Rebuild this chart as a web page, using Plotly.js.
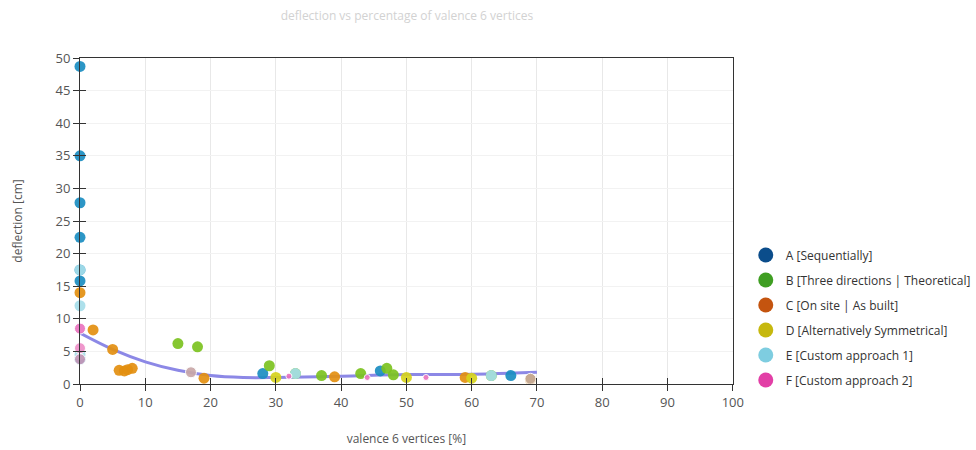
<!DOCTYPE html>
<html>
<head>
<meta charset="utf-8">
<script src="https://cdn.plot.ly/plotly-3.0.1.min.js"></script>
<style>html,body{margin:0;padding:0;background:#fff;}#chart{width:976px;height:450px;}</style>
</head>
<body>
<div id="chart"></div>
<script>
// Series names
var seriesNames = ["A [Sequentially]", "B [Three directions | Theoretical]", "C [On site | As built]", "D [Alternatively Symmetrical]", "E [Custom approach 1]", "F [Custom approach 2]"];
var legendColors = ["#0b4d8b", "#3f9e22", "#c4540f", "#c6b80e", "#7ecde0", "#e23fa6"];
var pointColors = ["#1a8dc1", "#7cc21f", "#e38f10", "#d6d31c", "#a6dde9", "#ea74c0"];

// Data (x = valence 6 vertices %, y = deflection cm)
var aX = [0, 0, 0, 0, 0, 0, 0, 28, 46, 66];
var aY = [48.7, 35, 27.8, 22.5, 17.5, 15.8, 3.8, 1.6, 2.0, 1.3];
var bX = [15, 18, 29, 33, 37, 43, 47, 48, 63];
var bY = [6.2, 5.7, 2.8, 1.6, 1.3, 1.6, 2.4, 1.4, 1.3];
var cX = [0, 2, 5, 6, 6.8, 7.3, 8, 19, 39, 59, 69];
var cY = [14, 8.3, 5.3, 2.1, 2.0, 2.2, 2.4, 0.9, 1.1, 1.0, 0.7];
var dX = [30, 50, 60];
var dY = [1.0, 1.0, 0.9];
var eX = [0, 0, 0, 33, 63];
var eY = [17.5, 12, 4.5, 1.6, 1.3];
var fX = [0, 0, 0, 17, 32, 44, 53, 69];
var fY = [8.5, 5.5, 3.8, 1.8, 1.2, 1.0, 1.0, 0.8];

// Marker styling for F (small/blended points)
var fSizes = [11, 11, 11, 11, 6, 6, 6, 11];
var fColors = ["#ea74c0", "#ee8fc8", "#c999b8", "#c9a8a8", "#ea74c0", "#ea74c0", "#ea74c0", "#c4ab9c"];

// Trend line
var trendX = [0, 5, 10, 15, 20, 25, 30, 40, 50, 60, 70];
var trendY = [7.8, 5.3, 3.4, 2.1, 1.3, 1.0, 1.0, 1.2, 1.45, 1.5, 1.8];

var xTicks = [0, 10, 20, 30, 40, 50, 60, 70, 80, 90, 100];
var yTicks = [0, 5, 10, 15, 20, 25, 30, 35, 40, 45, 50];

var seriesX = [aX, bX, cX, dX, eX, fX];
var seriesY = [aY, bY, cY, dY, eY, fY];

var traces = [];
traces.push({
  x: trendX, y: trendY, type: 'scatter', mode: 'lines',
  line: {color: '#8c88e6', width: 3, shape: 'spline'},
  showlegend: false, hoverinfo: 'skip'
});
for (var i = 0; i < 6; i++) {
  traces.push({
    x: seriesX[i], y: seriesY[i], type: 'scatter', mode: 'markers',
    marker: {color: i === 5 ? fColors : pointColors[i], size: i === 5 ? fSizes : 11, opacity: 0.92},
    cliponaxis: false, showlegend: false, name: seriesNames[i]
  });
}
for (var j = 0; j < 6; j++) {
  traces.push({
    x: [null], y: [null], type: 'scatter', mode: 'markers',
    marker: {color: legendColors[j], size: 15},
    name: seriesNames[j], showlegend: true, legendgroup: 'g' + j
  });
}

var fontFam = '"Open Sans", "Noto Sans", sans-serif';
var dom = [0, 655 / 896];
var layout = {
  width: 976, height: 450,
  margin: {l: 80, r: 0, t: 58, b: 66},
  paper_bgcolor: '#ffffff', plot_bgcolor: '#ffffff',
  font: {family: fontFam, size: 12, color: '#555'},
  title: {text: 'deflection vs percentage of valence 6 vertices', font: {family: fontFam, size: 12, color: '#d2d2d2'}, x: 407 / 976, xanchor: 'center', y: 0.965, yanchor: 'middle'},
  xaxis: {
    domain: dom,
    range: [0, 100], tickvals: xTicks, ticktext: xTicks.map(String),
    showgrid: true, gridcolor: '#e8e8e8', zeroline: false,
    showline: true, linecolor: '#333', linewidth: 1, mirror: true,
    ticks: 'outside', ticklen: 6, tickcolor: '#333',
    tickfont: {size: 13, color: '#555'},
    title: {text: 'valence 6 vertices [%]', font: {size: 12, color: '#555'}, standoff: 25}
  },
  yaxis: {
    range: [0, 50], tickvals: yTicks, ticktext: yTicks.map(String),
    showgrid: true, gridcolor: '#f2f2f2', zeroline: false,
    showline: true, linecolor: '#333', linewidth: 1, mirror: true,
    ticks: 'outside', ticklen: 6, tickcolor: '#333',
    tickfont: {size: 13, color: '#555'},
    title: {text: 'deflection [cm]', font: {size: 12, color: '#555'}, standoff: 30}
  },
  xaxis2: {overlaying: 'x', range: [0, 100], tickvals: xTicks, showticklabels: false, ticks: 'inside', ticklen: 6, tickcolor: '#333', showgrid: false, zeroline: false, showline: false, anchor: 'y2'},
  yaxis2: {overlaying: 'y', range: [0, 50], tickvals: yTicks, showticklabels: false, ticks: 'inside', ticklen: 6, tickcolor: '#333', showgrid: false, zeroline: false, showline: false, anchor: 'x2'},
  legend: {x: (748 - 80) / 896, xanchor: 'left', y: 0.44, yanchor: 'top', font: {size: 12, color: '#333'}, tracegroupgap: 6, bgcolor: 'rgba(0,0,0,0)'},
  showlegend: true
};
// dummy trace so the overlay axes are drawn
traces.push({x: [null], y: [null], xaxis: 'x2', yaxis: 'y2', type: 'scatter', mode: 'markers', showlegend: false, hoverinfo: 'skip'});

Plotly.newPlot('chart', traces, layout, {displayModeBar: false, staticPlot: true});
</script>
</body>
</html>
